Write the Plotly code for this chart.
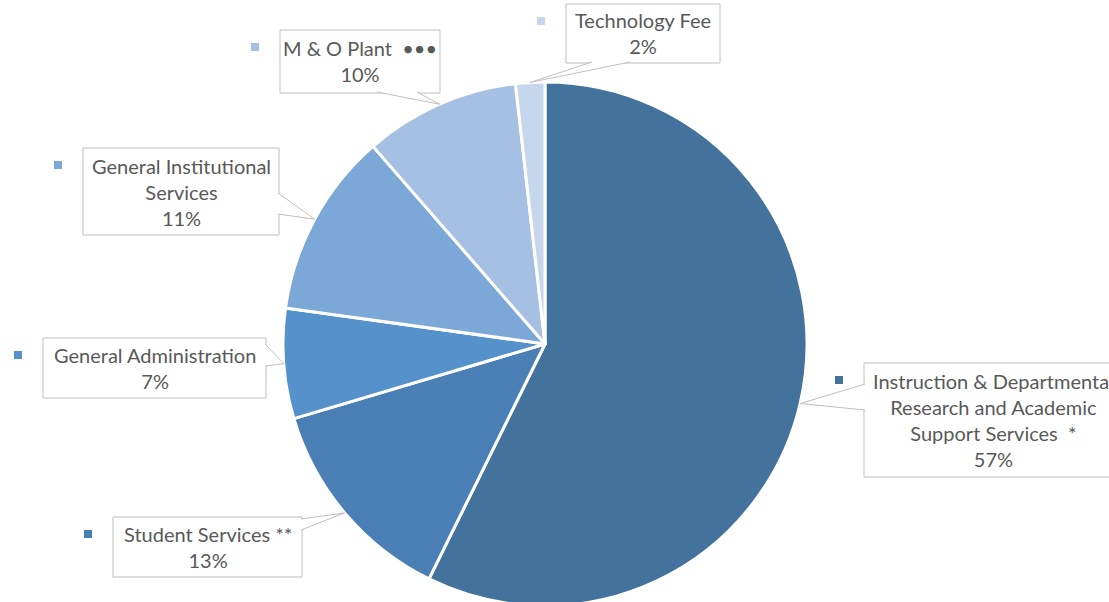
import math
import plotly.graph_objects as go

# ---- data ----
categories = [
    "Instruction & Departmental<br>Research and Academic<br>Support Services  *",
    "Student Services **",
    "General Administration",
    "General Institutional<br>Services",
    "M & O Plant  \u2022\u2022\u2022",
    "Technology Fee",
]
values = [57.3, 13.1, 6.8, 11.4, 9.6, 1.8]
colors = ["#43729D", "#4A7FB5", "#5592CB", "#7CA8D8", "#A6C0E3", "#C6D6EC"]

# ---- layout constants (screen pixels) ----
W, H = 1109, 610
OFF = 0
CX, CY, R = 545, 344, 262
# label boxes: left, top, right, bottom
boxes = [
    (864, 363, 1122, 477),
    (113, 517, 302, 577),
    (43, 338, 266, 398),
    (83, 148, 279, 235),
    (280, 30, 440, 93),
    (566, 4, 720, 63),
]
# callout wedge base: side of box, start, end (px along that edge)
wedges = [
    ("left", 384, 410),
    ("right", 519, 530),
    ("right", 344, 366),
    ("right", 193, 214),
    ("bottom", 377, 417),
    ("bottom", 592, 630),
]


def px(x):
    return (x - OFF) / W


def py(y):
    return 1 - (y - OFF) / H


fig = go.Figure(
    go.Pie(
        labels=[c.replace("<br>", " ") for c in categories],
        values=values,
        sort=False,
        direction="clockwise",
        rotation=0,
        marker=dict(colors=colors, line=dict(color="white", width=3)),
        textinfo="none",
        hoverinfo="label+percent",
        showlegend=False,
        domain=dict(x=[px(CX - R), px(CX + R)], y=[py(CY + R), py(CY - R)]),
    )
)

total = sum(values)
shapes = []
annotations = []
cum = 0.0
for cat, v, col, box, wd in zip(categories, values, colors, boxes, wedges):
    mid = 2 * math.pi * (cum + v / 2) / total
    cum += v
    tx = CX + R * math.sin(mid)
    ty = CY - R * math.cos(mid)
    l, t, r, b = box
    shapes.append(dict(type="rect", xref="paper", yref="paper",
                       x0=px(l), x1=px(r), y0=py(b), y1=py(t),
                       fillcolor="white", line=dict(color="#BFBFBF", width=1), layer="above"))
    side, s0, s1 = wd
    if side == "left":
        p1, p2 = (l + 1, s0), (l + 1, s1)
    elif side == "right":
        p1, p2 = (r - 1, s0), (r - 1, s1)
    elif side == "bottom":
        p1, p2 = (s0, b - 1), (s1, b - 1)
    else:
        p1, p2 = (s0, t + 1), (s1, t + 1)
    path = "M {:.5f},{:.5f} L {:.5f},{:.5f} L {:.5f},{:.5f}".format(
        px(p1[0]), py(p1[1]), px(tx), py(ty), px(p2[0]), py(p2[1]))
    shapes.append(dict(type="path", xref="paper", yref="paper", path=path,
                       fillcolor="white", line=dict(color="#BFBFBF", width=1), layer="above"))
    shapes.append(dict(type="rect", xref="paper", yref="paper",
                       x0=px(l - 29), x1=px(l - 21), y0=py(t + 21), y1=py(t + 13),
                       fillcolor=col, line=dict(width=0), layer="above"))
    pct = round(v / total * 100)
    annotations.append(dict(
        xref="paper", yref="paper", x=px((l + r) / 2), y=py((t + b) / 2),
        xanchor="center", yanchor="middle", showarrow=False, align="center",
        text=f"{cat}<br>{pct}%",
        font=dict(family="Lato", size=20, color="#595959"),
    ))

fig.update_layout(
    width=W, height=H,
    margin=dict(l=0, r=0, t=0, b=0),
    paper_bgcolor="white", plot_bgcolor="white",
    shapes=shapes, annotations=annotations,
)
fig.write_html(
    "out.html",
    config={"displayModeBar": False},
    post_script="document.body.style.margin='0';document.body.style.overflow='hidden';",
)
